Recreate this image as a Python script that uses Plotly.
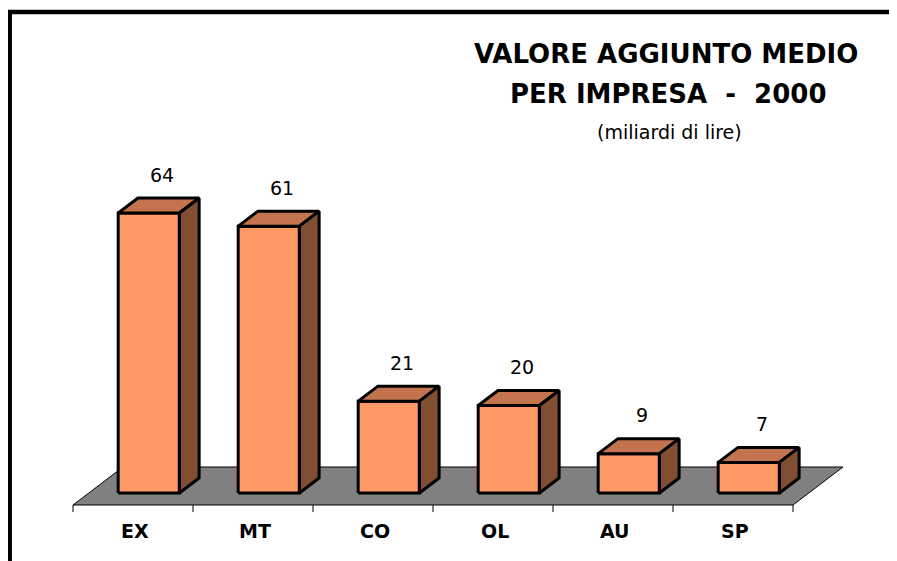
import plotly.graph_objects as go

# ---- data ----
categories = ["EX", "MT", "CO", "OL", "AU", "SP"]
values = [64, 61, 21, 20, 9, 7]
title_line1 = "VALORE AGGIUNTO MEDIO"
title_line2 = "PER IMPRESA\u00a0\u00a0-\u00a0\u00a02000"
subtitle = "(miliardi di lire)"

# ---- geometry (pixel calibration, in reference-image pixels) ----
W, H = 897, 561
OFF = 8                   # page body margin
FW, FH = W - OFF, H - OFF # figure size
PX_X = 120.0      # pixels per category
PX_Y = 4.375      # pixels per value unit
X0_PX = 73        # left end of category axis
BASE_PX = 493     # row of bar bases

DX = 50 / PX_X            # full floor depth, x
DY = 38 / PX_Y            # full floor depth, y
T0, T1 = 12 / 38, 27 / 38 # bar front/back position in depth
BAR_W = 0.51
Y_FLOOR = -T0 * DY        # floor front edge

FRONT = "#FF9966"
TOP = "#C3744F"
SIDE = "#804E32"
FLOOR = "#808080"
FONT = "DejaVu Sans"

def px(x):
    return (x - OFF) / FW

def py(y):
    return 1 - (y - OFF) / FH

n = len(categories)
fig = go.Figure()

def poly(xs, ys, fill, lw=3, lc="black"):
    fig.add_trace(go.Scatter(
        x=xs + [xs[0]], y=ys + [ys[0]], mode="lines", fill="toself",
        fillcolor=fill, line=dict(color=lc, width=lw),
        hoverinfo="skip", showlegend=False))

# floor
poly([0, n, n + DX, DX], [Y_FLOOR, Y_FLOOR, Y_FLOOR + DY, Y_FLOOR + DY], FLOOR, lw=1)

# ticks
tx, ty = [], []
for k in range(n + 1):
    tx += [k, k, None]
    ty += [Y_FLOOR, Y_FLOOR - 7 / PX_Y, None]
fig.add_trace(go.Scatter(x=tx, y=ty, mode="lines", line=dict(color="black", width=1),
                         hoverinfo="skip", showlegend=False))

ddx = (T1 - T0) * DX
ddy = (T1 - T0) * DY
for i, (c, v) in enumerate(zip(categories, values)):
    xl = i + 0.5 - BAR_W / 2 + T0 * DX
    xr = xl + BAR_W
    poly([xl, xr, xr, xl], [0, 0, v, v], FRONT)
    poly([xl, xr, xr + ddx, xl + ddx], [v, v, v + ddy, v + ddy], TOP)
    poly([xr, xr + ddx, xr + ddx, xr], [0, ddy, v + ddy, v], SIDE)
    fig.add_annotation(x=(xl + xr) / 2 + 13 / PX_X, y=v + ddy + 23.5 / PX_Y,
                       xref="x", yref="y", text=str(v), showarrow=False,
                       xanchor="center", yanchor="middle",
                       font=dict(family=FONT, size=19, color="black"))
    fig.add_annotation(x=i + 0.5 + 1.5 / PX_X, y=Y_FLOOR - 26 / PX_Y,
                       xref="x", yref="y", text="<b>%s</b>" % c, showarrow=False,
                       xanchor="center", yanchor="middle",
                       font=dict(family=FONT, size=19, color="black"))

# titles
for txt, cx, cy, size in [("<b>%s</b>" % title_line1, 666, 54, 26),
                          ("<b>%s</b>" % title_line2, 668, 94, 26),
                          (subtitle, 669, 132, 19)]:
    fig.add_annotation(x=px(cx), y=py(cy), xref="paper", yref="paper",
                       text=txt, showarrow=False, xanchor="center", yanchor="middle",
                       font=dict(family=FONT, size=size, color="black"))

# frame
fig.add_shape(type="rect", xref="paper", yref="paper",
              x0=px(9.7), x1=1.05, y0=-0.05, y1=py(12),
              line=dict(color="black", width=4.5), fillcolor="rgba(0,0,0,0)")

fig.update_layout(
    width=FW, height=FH, autosize=False,
    margin=dict(l=0, r=0, t=0, b=0),
    paper_bgcolor="white", plot_bgcolor="white",
    showlegend=False, hovermode=False,
    xaxis=dict(range=[(OFF - X0_PX) / PX_X, (W - X0_PX) / PX_X], visible=False, fixedrange=True),
    yaxis=dict(range=[(BASE_PX - H) / PX_Y, (BASE_PX - OFF) / PX_Y], visible=False, fixedrange=True),
)

fig.write_html("out.html", config={"displayModeBar": False})
